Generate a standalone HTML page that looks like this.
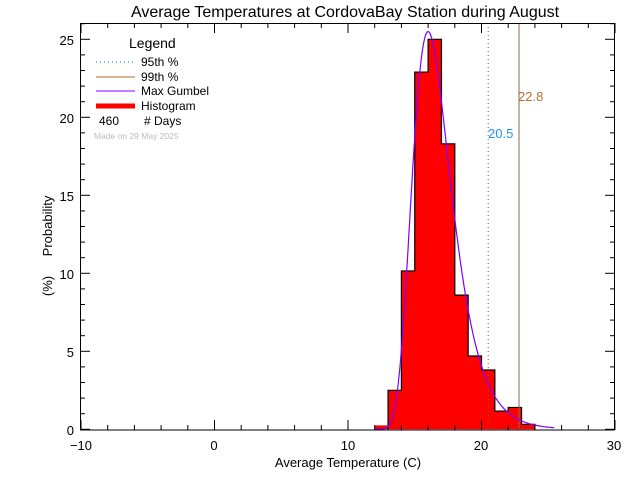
<!DOCTYPE html>
<html><head><meta charset="utf-8"><style>
body{margin:0;background:#fff;}
svg{display:block;font-family:"Liberation Sans",sans-serif;}
</style></head><body>
<svg id="s" width="640" height="480" viewBox="0 0 640 480" xmlns="http://www.w3.org/2000/svg">
<text x="345" y="17" font-size="16" text-anchor="middle">Average Temperatures at CordovaBay Station during August</text>
<path id="fill" fill="#ff0000" stroke="none"/>
<path id="step" fill="none" stroke="#000" stroke-width="1.2"/>
<line x1="488.2" y1="23" x2="488.2" y2="430" stroke="#a0622d" stroke-dasharray="1,3"/>
<line x1="519" y1="23" x2="519" y2="430" stroke="#8a6a50" stroke-width="1"/>
<polyline id="g" fill="none" stroke="#8000ff" stroke-width="1.2"/>
<text x="488" y="138" font-size="13" fill="#1e90ff">20.5</text>
<text x="518" y="101" font-size="13" fill="#b8702d">22.8</text>
<rect x="80.5" y="23.5" width="534" height="406.5" fill="none" stroke="#000"/>
<g id="ticks" stroke="#000"></g>
<g font-size="13" text-anchor="middle">
<text x="81" y="450">−10</text><text x="214" y="450">0</text><text x="348" y="450">10</text><text x="481" y="450">20</text><text x="614" y="450">30</text>
</g>
<g font-size="13" text-anchor="end">
<text x="74" y="435">0</text><text x="74" y="357">5</text><text x="74" y="279">10</text><text x="74" y="201">15</text><text x="74" y="123">20</text><text x="74" y="45">25</text>
</g>
<text x="348" y="467" font-size="13" text-anchor="middle">Average Temperature (C)</text>
<text transform="translate(52,226) rotate(-90)" font-size="13" text-anchor="middle">Probability</text>
<text transform="translate(52,286) rotate(-90)" font-size="13" text-anchor="middle">(%)</text>
<text x="129" y="48" font-size="14">Legend</text>
<line x1="96" y1="62" x2="135" y2="62" stroke="#1e6fd0" stroke-dasharray="1,3"/>
<text x="141" y="66" font-size="12">95th %</text>
<line x1="96" y1="77" x2="135" y2="77" stroke="#b0652a"/>
<text x="141" y="81" font-size="12">99th %</text>
<line x1="96" y1="91" x2="135" y2="91" stroke="#8000ff"/>
<text x="141" y="95" font-size="12">Max Gumbel</text>
<line x1="96" y1="106" x2="135" y2="106" stroke="#ff0000" stroke-width="5"/>
<text x="141" y="110" font-size="12">Histogram</text>
<text x="99" y="125" font-size="12">460</text>
<text x="144" y="125" font-size="12"># Days</text>
<text x="94" y="139" font-size="8.5" fill="#bbb">Made on 29 May 2025</text>
</svg>
<script>
var X=function(v){return 81+(v+10)*13.35},Y=function(p){return 429.3-p*15.6};
var h=[0.25,2.5,10.15,22.9,25.0,18.3,8.6,4.7,3.8,1.17,1.4,0.32];
var d='M'+X(12)+',429.3',sd='M'+X(13)+',429.3';
h.forEach(function(p,i){d+=' L'+X(12+i)+','+Y(p)+' L'+X(13+i)+','+Y(p);if(i>0){sd+=' L'+X(12+i)+','+Y(p)+' L'+X(13+i)+','+Y(p);}});
d+=' L'+X(24)+',429.3 Z';sd+=' L'+X(24)+',429.3';
document.getElementById('fill').setAttribute('d',d);
document.getElementById('step').setAttribute('d',sd);
var pts=[],beta=1.443,mu=16.0;
for(var v=12;v<=25.5;v+=0.05){var z=(v-mu)/beta;var f=100/beta*Math.exp(-(z+Math.exp(-z)));pts.push(X(v).toFixed(1)+','+Y(f).toFixed(1));}
document.getElementById('g').setAttribute('points',pts.join(' '));
var t='';
for(var v=-10;v<=30;v+=2){var x=X(v),L=(v%10==0)?10:5;t+='<line x1="'+x+'" y1="430" x2="'+x+'" y2="'+(430-L)+'"/><line x1="'+x+'" y1="23" x2="'+x+'" y2="'+(23+L)+'"/>';}
for(var p=0;p<=26;p++){var y=Y(p),L=(p%5==0)?10:5;t+='<line x1="80" y1="'+y+'" x2="'+(80+L)+'" y2="'+y+'"/><line x1="615" y1="'+y+'" x2="'+(615-L)+'" y2="'+y+'"/>';}
document.getElementById('ticks').innerHTML=t;
</script>
</body></html>
